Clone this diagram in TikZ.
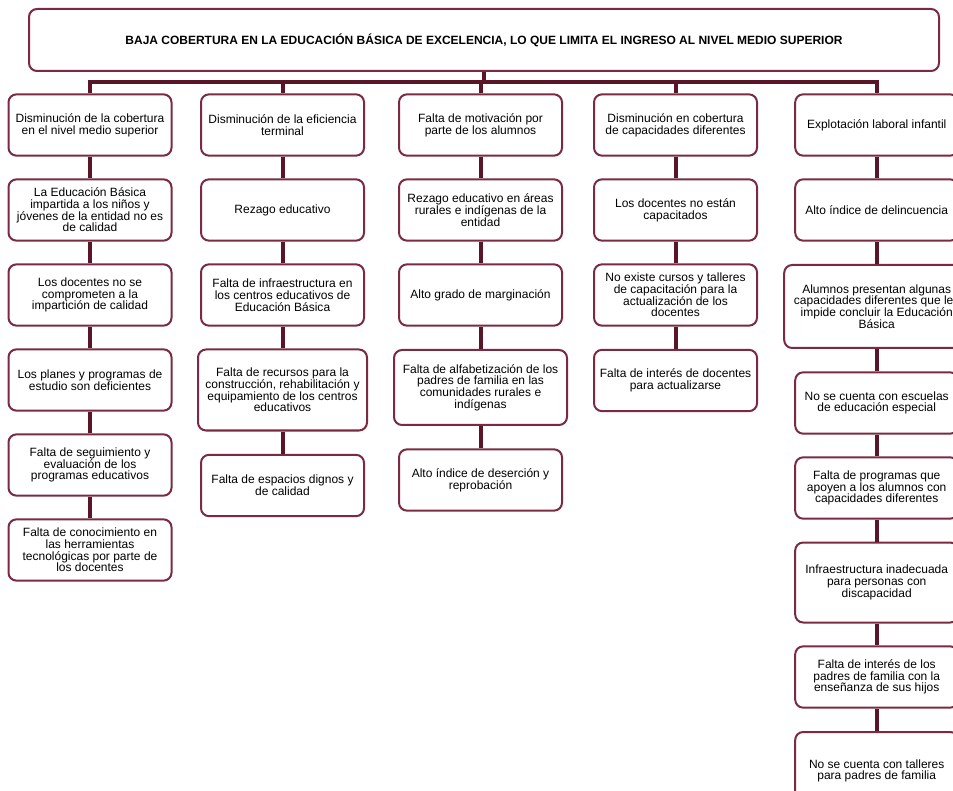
\documentclass[tikz,border=0pt]{standalone}
\usepackage{fontspec}
\setmainfont{Liberation Sans}
\definecolor{vino}{HTML}{5A1629}
\definecolor{borde}{HTML}{7A2B41}

\tikzset{
  caja/.style={draw=borde, line width=1.5pt, rounded corners=6pt, fill=white,
    align=center, inner sep=2pt, minimum width=122.25pt, minimum height=46pt,
    font=\fontsize{9}{8.8}\selectfont},
  liga/.style={draw=vino, line width=3pt}
}

\begin{document}
\begin{tikzpicture}[x=0.75pt, y=-0.75pt]
\useasboundingbox (0,0) rectangle (953,791);
\clip (0,0) rectangle (953,791);

\node[caja, minimum width=682.5pt, minimum height=46.5pt,
  font=\fontsize{9}{10}\selectfont\bfseries] (T) at (484,40)
  {BAJA COBERTURA EN LA EDUCACIÓN BÁSICA DE EXCELENCIA, LO QUE LIMITA EL INGRESO AL NIVEL MEDIO SUPERIOR};

\node[caja] (A1) at (90,125) {Disminución de la cobertura\\en el nivel medio superior};
\node[caja] (A2) at (90,210) {La Educación Básica\\impartida a los niños y\\jóvenes de la entidad no es\\de calidad};
\node[caja] (A3) at (90,295) {Los docentes no se\\comprometen a la\\impartición de calidad};
\node[caja] (A4) at (90,380) {Los planes y programas de\\estudio son deficientes};
\node[caja] (A5) at (90,465) {Falta de seguimiento y\\evaluación de los\\programas educativos};
\node[caja] (A6) at (90,550) {Falta de conocimiento en\\las herramientas\\tecnológicas por parte de\\los docentes};

\node[caja] (B1) at (282.5,125) {Disminución de la eficiencia\\terminal};
\node[caja] (B2) at (282.5,210) {Rezago educativo};
\node[caja] (B3) at (282.5,295) {Falta de infraestructura en\\los centros educativos de\\Educación Básica};
\node[caja, minimum width=126.75pt, minimum height=60.75pt] (B4) at (282.5,390)
  {Falta de recursos para la\\construcción, rehabilitación y\\equipamiento de los centros\\educativos};
\node[caja] (B5) at (282.5,485.5) {Falta de espacios dignos y\\de calidad};

\node[caja] (C1) at (480.5,125) {Falta de motivación por\\parte de los alumnos};
\node[caja] (C2) at (480.5,210) {Rezago educativo en áreas\\rurales e indígenas de la\\entidad};
\node[caja] (C3) at (480.5,295) {Alto grado de marginación};
\node[caja, minimum width=129.75pt, minimum height=56.25pt] (C4) at (480.5,387.5)
  {Falta de alfabetización de los\\padres de familia en las\\comunidades rurales e\\indígenas};
\node[caja] (C5) at (480.5,480) {Alto índice de deserción y\\reprobación};

\node[caja] (D1) at (675.5,125) {Disminución en cobertura\\de capacidades diferentes};
\node[caja] (D2) at (675.5,210) {Los docentes no están\\capacitados};
\node[caja] (D3) at (675.5,295) {No existe cursos y talleres\\de capacitación para la\\actualización de los\\docentes};
\node[caja] (D4) at (675.5,380.5) {Falta de interés de docentes\\para actualizarse};

\node[caja] (E1) at (876.7,125) {Explotación laboral infantil};
\node[caja] (E2) at (876.7,210) {Alto índice de delincuencia};
\node[caja, minimum width=138.75pt, minimum height=62.25pt] (E3) at (876.7,306.5)
  {Alumnos presentan algunas\\capacidades diferentes que les\\impide concluir la Educación\\Básica};
\node[caja] (E4) at (876.7,403) {No se cuenta con escuelas\\de educación especial};
\node[caja] (E5) at (876.7,488) {Falta de programas que\\apoyen a los alumnos con\\capacidades diferentes};
\node[caja, minimum height=60pt] (E6) at (876.7,582.5) {Infraestructura inadecuada\\para personas con\\discapacidad};
\node[caja] (E7) at (876.7,677) {Falta de interés de los\\padres de familia con la\\enseñanza de sus hijos};
\node[caja, minimum height=58.5pt] (E8) at (876.7,771) {No se cuenta con talleres\\para padres de familia};

\coordinate (J) at (484,82);
\draw[liga] (T.south) -- (J);
\draw[liga] (J) -| (A1.north);
\draw[liga] (J) -| (B1.north);
\draw[liga] (J) -| (C1.north);
\draw[liga] (J) -| (D1.north);
\draw[liga] (J) -| (E1.north);

\draw[liga] (A1) -- (A2);
\draw[liga] (A2) -- (A3);
\draw[liga] (A3) -- (A4);
\draw[liga] (A4) -- (A5);
\draw[liga] (A5) -- (A6);

\draw[liga] (B1) -- (B2);
\draw[liga] (B2) -- (B3);
\draw[liga] (B3) -- (B4);
\draw[liga] (B4) -- (B5);

\draw[liga] (C1) -- (C2);
\draw[liga] (C2) -- (C3);
\draw[liga] (C3) -- (C4);
\draw[liga] (C4) -- (C5);

\draw[liga] (D1) -- (D2);
\draw[liga] (D2) -- (D3);
\draw[liga] (D3) -- (D4);

\draw[liga] (E1) -- (E2);
\draw[liga] (E2) -- (E3);
\draw[liga] (E3) -- (E4);
\draw[liga] (E4) -- (E5);
\draw[liga] (E5) -- (E6);
\draw[liga] (E6) -- (E7);
\draw[liga] (E7) -- (E8);
\end{tikzpicture}
\end{document}
